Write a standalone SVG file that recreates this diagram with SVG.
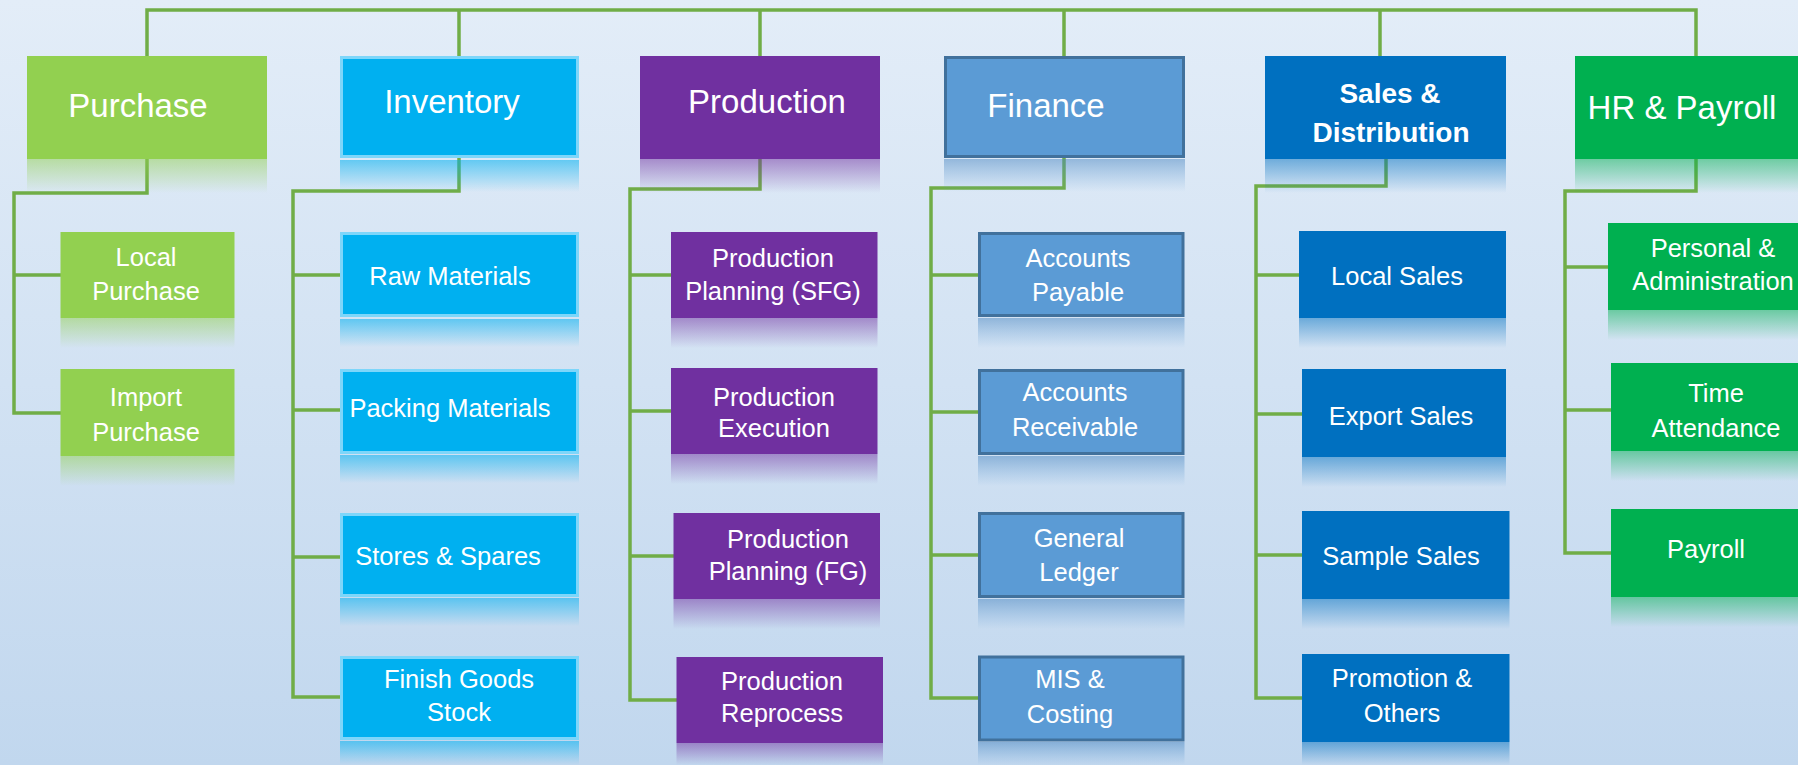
<svg xmlns="http://www.w3.org/2000/svg" width="1798" height="765" viewBox="0 0 1798 765">
<defs>
<linearGradient id="bg" x1="0" y1="0" x2="0" y2="1"><stop offset="0" stop-color="#E3EDF8"/><stop offset="1" stop-color="#C1D7EE"/></linearGradient>
<linearGradient id="rLime" x1="0" y1="0" x2="0" y2="1"><stop offset="0" stop-color="#92D050" stop-opacity="0.5"/><stop offset="1" stop-color="#92D050" stop-opacity="0"/></linearGradient>
<linearGradient id="rCyan" x1="0" y1="0" x2="0" y2="1"><stop offset="0" stop-color="#00B0F0" stop-opacity="0.55"/><stop offset="1" stop-color="#00B0F0" stop-opacity="0"/></linearGradient>
<linearGradient id="rPurple" x1="0" y1="0" x2="0" y2="1"><stop offset="0" stop-color="#7030A0" stop-opacity="0.5"/><stop offset="1" stop-color="#7030A0" stop-opacity="0"/></linearGradient>
<linearGradient id="rSteel" x1="0" y1="0" x2="0" y2="1"><stop offset="0" stop-color="#4A86C0" stop-opacity="0.5"/><stop offset="1" stop-color="#5B9BD5" stop-opacity="0"/></linearGradient>
<linearGradient id="rBlue" x1="0" y1="0" x2="0" y2="1"><stop offset="0" stop-color="#0070C0" stop-opacity="0.5"/><stop offset="1" stop-color="#0070C0" stop-opacity="0"/></linearGradient>
<linearGradient id="rGreen" x1="0" y1="0" x2="0" y2="1"><stop offset="0" stop-color="#00B050" stop-opacity="0.5"/><stop offset="1" stop-color="#00B050" stop-opacity="0"/></linearGradient>
</defs>
<style>
.link{fill:none;stroke:#70AD47;stroke-width:3.5}
.t{font-family:"Liberation Sans",Arial,sans-serif;fill:#FFFFFF;text-anchor:middle}
.h{font-size:33px}
.hb{font-size:28px;font-weight:bold}
.s{font-size:25.5px}
.lime{fill:#92D050}
.cyan{fill:#00B0F0;stroke:#7DD6FA;stroke-width:3}
.purple{fill:#7030A0}
.steel{fill:#5B9BD5;stroke:#41719C;stroke-width:3}
.blue{fill:#0070C0}
.green{fill:#00B050}
</style>
<rect x="0" y="0" width="1798" height="765" fill="url(#bg)"/>

<g id="connectors">
<path class="link" d="M147,56 V10 H1696 V56 M459,10 V56 M760,10 V56 M1064,10 V56 M1380,10 V56"/>
<path class="link" d="M147,159 V193 H14 V413 H61 M14,275 H61"/>
<path class="link" d="M459,158 V191 H293 V697 H340 M293,275 H340 M293,410 H340 M293,557 H340"/>
<path class="link" d="M760,159 V189 H630 V700 H677 M630,275 H671 M630,411 H671 M630,556 H674"/>
<path class="link" d="M1064,158 V188 H931 V698 H978 M931,275 H978 M931,412 H978 M931,555 H978"/>
<path class="link" d="M1386,159 V186 H1256 V698 H1302 M1256,275 H1299 M1256,414 H1302 M1256,555 H1302"/>
<path class="link" d="M1696,159 V191 H1565 V553 H1611 M1565,267 H1608 M1565,410 H1611"/>
</g>

<!-- Purchase -->
<g id="purchase">
<rect class="lime" x="27" y="56" width="240" height="103"/>
<rect x="27" y="159" width="240" height="34" fill="url(#rLime)"/>
<text class="t h" x="138" y="117">Purchase</text>
</g>
<g id="local-purchase">
<rect class="lime" x="60.5" y="232" width="174" height="86"/>
<rect x="60.5" y="318" width="174" height="30" fill="url(#rLime)"/>
<text class="t s" x="146" y="266">Local</text>
<text class="t s" x="146" y="300">Purchase</text>
</g>
<g id="import-purchase">
<rect class="lime" x="60.5" y="369" width="174" height="87"/>
<rect x="60.5" y="456" width="174" height="30" fill="url(#rLime)"/>
<text class="t s" x="146" y="406">Import</text>
<text class="t s" x="146" y="441">Purchase</text>
</g>

<!-- Inventory -->
<g id="inventory">
<rect class="cyan" x="341.5" y="57.5" width="236" height="99"/>
<rect x="340" y="160" width="239" height="32" fill="url(#rCyan)"/>
<text class="t h" x="452" y="113">Inventory</text>
</g>
<g id="raw-materials">
<rect class="cyan" x="341.5" y="233.5" width="236" height="82"/>
<rect x="340" y="319" width="239" height="28" fill="url(#rCyan)"/>
<text class="t s" x="450" y="285">Raw Materials</text>
</g>
<g id="packing-materials">
<rect class="cyan" x="341.5" y="370.5" width="236" height="82"/>
<rect x="340" y="455" width="239" height="28" fill="url(#rCyan)"/>
<text class="t s" x="450" y="417">Packing Materials</text>
</g>
<g id="stores-spares">
<rect class="cyan" x="341.5" y="514.5" width="236" height="81"/>
<rect x="340" y="598" width="239" height="28" fill="url(#rCyan)"/>
<text class="t s" x="448" y="565">Stores &amp; Spares</text>
</g>
<g id="finish-goods">
<rect class="cyan" x="341.5" y="657.5" width="236" height="81"/>
<rect x="340" y="741" width="239" height="24" fill="url(#rCyan)"/>
<text class="t s" x="459" y="688">Finish Goods</text>
<text class="t s" x="459" y="721">Stock</text>
</g>

<!-- Production -->
<g id="production">
<rect class="purple" x="640" y="56" width="240" height="103"/>
<rect x="640" y="159" width="240" height="34" fill="url(#rPurple)"/>
<text class="t h" x="767" y="113">Production</text>
</g>
<g id="planning-sfg">
<rect class="purple" x="671" y="232" width="206.5" height="86"/>
<rect x="671" y="318" width="206.5" height="30" fill="url(#rPurple)"/>
<text class="t s" x="773" y="267">Production</text>
<text class="t s" x="773" y="300">Planning (SFG)</text>
</g>
<g id="execution">
<rect class="purple" x="671" y="368" width="206.5" height="86"/>
<rect x="671" y="454" width="206.5" height="30" fill="url(#rPurple)"/>
<text class="t s" x="774" y="406">Production</text>
<text class="t s" x="774" y="437">Execution</text>
</g>
<g id="planning-fg">
<rect class="purple" x="673.5" y="513" width="206.5" height="86"/>
<rect x="673.5" y="599" width="206.5" height="30" fill="url(#rPurple)"/>
<text class="t s" x="788" y="548">Production</text>
<text class="t s" x="788" y="580">Planning (FG)</text>
</g>
<g id="reprocess">
<rect class="purple" x="676.5" y="657" width="206.5" height="86"/>
<rect x="676.5" y="743" width="206.5" height="22" fill="url(#rPurple)"/>
<text class="t s" x="782" y="690">Production</text>
<text class="t s" x="782" y="722">Reprocess</text>
</g>

<!-- Finance -->
<g id="finance">
<rect class="steel" x="945.5" y="57.5" width="238" height="99"/>
<rect x="944" y="159" width="241" height="33" fill="url(#rSteel)"/>
<text class="t h" x="1046" y="117">Finance</text>
</g>
<g id="accounts-payable">
<rect class="steel" x="979.5" y="233.5" width="203.5" height="82"/>
<rect x="978" y="318" width="206.5" height="30" fill="url(#rSteel)"/>
<text class="t s" x="1078" y="267">Accounts</text>
<text class="t s" x="1078" y="301">Payable</text>
</g>
<g id="accounts-receivable">
<rect class="steel" x="979.5" y="370.5" width="203.5" height="83"/>
<rect x="978" y="456" width="206.5" height="30" fill="url(#rSteel)"/>
<text class="t s" x="1075" y="401">Accounts</text>
<text class="t s" x="1075" y="436">Receivable</text>
</g>
<g id="general-ledger">
<rect class="steel" x="979.5" y="513.5" width="203.5" height="83"/>
<rect x="978" y="599" width="206.5" height="30" fill="url(#rSteel)"/>
<text class="t s" x="1079" y="547">General</text>
<text class="t s" x="1079" y="581">Ledger</text>
</g>
<g id="mis-costing">
<rect class="steel" x="979.5" y="657" width="203.5" height="83"/>
<rect x="978" y="742" width="206.5" height="23" fill="url(#rSteel)"/>
<text class="t s" x="1070" y="688">MIS &amp;</text>
<text class="t s" x="1070" y="723">Costing</text>
</g>

<!-- Sales & Distribution -->
<g id="sales">
<rect class="blue" x="1265" y="56" width="241" height="103"/>
<rect x="1265" y="159" width="241" height="34" fill="url(#rBlue)"/>
<text class="t hb" x="1390" y="103">Sales &amp;</text>
<text class="t hb" x="1391" y="142">Distribution</text>
</g>
<g id="local-sales">
<rect class="blue" x="1299" y="231" width="207" height="87"/>
<rect x="1299" y="318" width="207" height="30" fill="url(#rBlue)"/>
<text class="t s" x="1397" y="285">Local Sales</text>
</g>
<g id="export-sales">
<rect class="blue" x="1302" y="369" width="204" height="88"/>
<rect x="1302" y="457" width="204" height="30" fill="url(#rBlue)"/>
<text class="t s" x="1401" y="425">Export Sales</text>
</g>
<g id="sample-sales">
<rect class="blue" x="1302" y="511" width="207.5" height="88"/>
<rect x="1302" y="599" width="207.5" height="30" fill="url(#rBlue)"/>
<text class="t s" x="1401" y="565">Sample Sales</text>
</g>
<g id="promotion">
<rect class="blue" x="1302" y="654" width="207.5" height="88"/>
<rect x="1302" y="742" width="207.5" height="23" fill="url(#rBlue)"/>
<text class="t s" x="1402" y="687">Promotion &amp;</text>
<text class="t s" x="1402" y="722">Others</text>
</g>

<!-- HR & Payroll -->
<g id="hr">
<rect class="green" x="1575" y="56" width="240" height="103"/>
<rect x="1575" y="159" width="240" height="34" fill="url(#rGreen)"/>
<text class="t h" x="1682" y="119">HR &amp; Payroll</text>
</g>
<g id="personal-admin">
<rect class="green" x="1608" y="223" width="210" height="87"/>
<rect x="1608" y="310" width="210" height="30" fill="url(#rGreen)"/>
<text class="t s" x="1713" y="257">Personal &amp;</text>
<text class="t s" x="1713" y="290">Administration</text>
</g>
<g id="time-attendance">
<rect class="green" x="1611" y="363" width="210" height="88"/>
<rect x="1611" y="451" width="210" height="30" fill="url(#rGreen)"/>
<text class="t s" x="1716" y="402">Time</text>
<text class="t s" x="1716" y="437">Attendance</text>
</g>
<g id="payroll">
<rect class="green" x="1611" y="509" width="210" height="88"/>
<rect x="1611" y="597" width="210" height="30" fill="url(#rGreen)"/>
<text class="t s" x="1706" y="558">Payroll</text>
</g>
</svg>
